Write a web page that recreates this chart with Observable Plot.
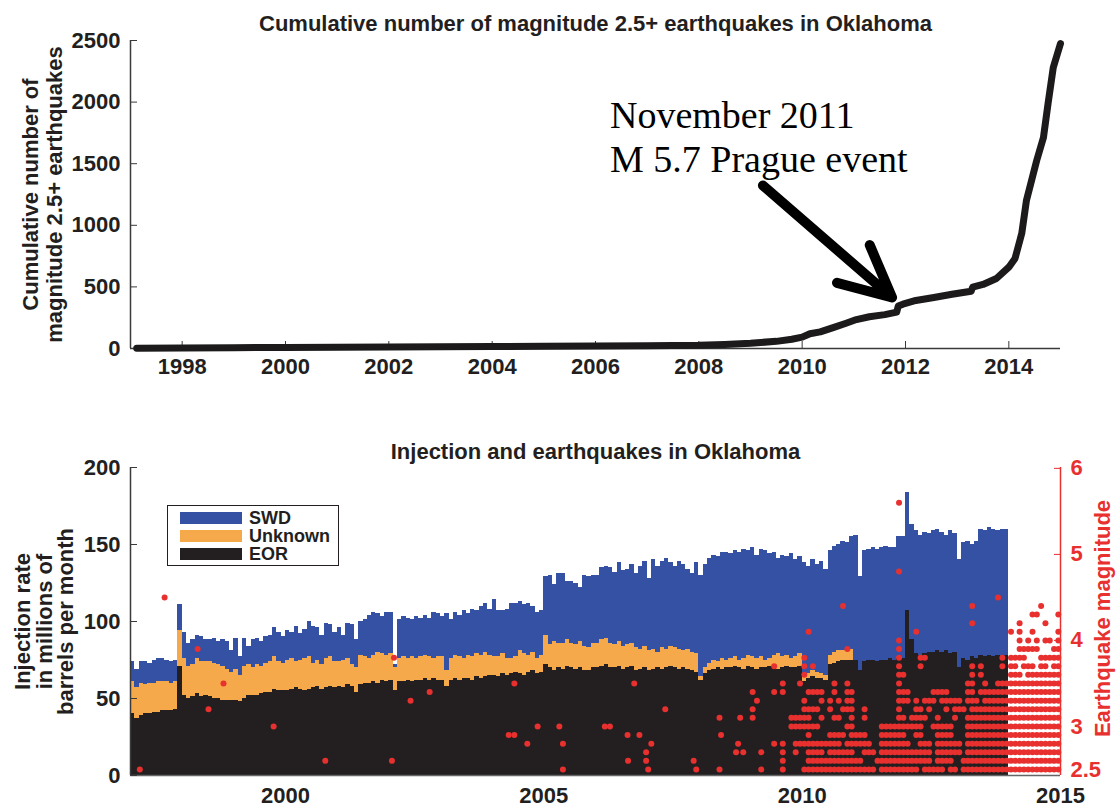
<!DOCTYPE html>
<html><head><meta charset="utf-8">
<script src="https://cdn.jsdelivr.net/npm/d3@7"></script>
<script src="https://cdn.jsdelivr.net/npm/@observablehq/plot@0.6"></script>
<style>
body{margin:0;background:#fff;}
#wrap{position:relative;width:1120px;height:807px;overflow:hidden;background:#fff;font-family:"Liberation Sans",Arial,sans-serif;}
#wrap svg{position:absolute;left:0;}
#legend{position:absolute;left:167px;top:505px;width:172px;height:61px;border:1.5px solid #231f20;background:#fff;box-sizing:border-box;}
#legend .sw{position:absolute;left:12px;width:62px;height:12px;}
#legend .lb{position:absolute;left:81px;font:bold 18px "Liberation Sans",Arial,sans-serif;color:#231f20;line-height:18px;}
</style></head>
<body><div id="wrap"></div>
<script>
// ---------- Top chart data ----------
const cumYears = [1997.12, 1998, 1999, 2000, 2001, 2002, 2003, 2004, 2005, 2006, 2007, 2008, 2008.5, 2009, 2009.5, 2009.8, 2010, 2010.15, 2010.35, 2010.6, 2010.85, 2011.05, 2011.3, 2011.6, 2011.83, 2011.86, 2011.95, 2012.2, 2012.55, 2012.9, 2013.27, 2013.3, 2013.5, 2013.76, 2014.0, 2014.12, 2014.25, 2014.34, 2014.54, 2014.67, 2014.76, 2014.86, 2015.0];
const cumCounts = [3, 5, 7, 9, 10, 12, 14, 16, 18, 20, 22, 26, 33, 43, 58, 75, 92, 120, 135, 170, 205, 235, 258, 275, 295, 345, 360, 390, 414, 440, 465, 498, 520, 568, 660, 731, 934, 1200, 1527, 1713, 1990, 2280, 2475];
const topXTicks = [1998, 2000, 2002, 2004, 2006, 2008, 2010, 2012, 2014];
const topYTicks = [0, 500, 1000, 1500, 2000, 2500];
const noteLines = ["November 2011", "M 5.7 Prague event"];
const noteX = [2006.28, 2006.28];
const noteY = [1786, 1429];
const arrowFrom = [2009.24, 1323];
const arrowTo = [2011.74, 414];

// ---------- Bottom chart data (monthly, Jan 1997 - Dec 2013), stacked levels ----------
const eorLevel = [
 40,37,39,40,40,41,41,42,42,42,43,71,
 52,50,51,53,51,52,51,50,50,49,49,49,
 49,48,50,52,52,52,53,54,54,56,55,55,
 55,56,57,56,55,56,57,58,56,57,58,57,
 58,57,59,58,54,59,60,60,61,60,62,61,
 62,55,61,61,62,61,62,62,63,62,63,62,
 62,58,62,63,62,63,63,62,64,63,64,65,
 65,64,66,65,66,67,66,65,67,68,66,67,
 72,70,68,70,69,71,70,69,70,68,68,70,
 70,71,72,70,70,71,69,70,71,68,69,70,
 68,69,70,69,70,71,70,69,70,69,68,67,
 62,66,68,69,70,69,70,70,71,70,69,71,
 70,69,70,70,71,70,69,70,71,70,70,71,
 61,63,64,63,63,62,72,73,74,75,75,75,
 75,68,74,75,75,74,75,75,76,75,76,76,
 107,88,79,78,79,80,80,81,80,81,79,80,
 70,76,75,77,76,78,77,78,77,78,77,78];
const unknownLevel = [
 61,57,60,59,60,60,61,61,61,60,61,94,
 76,71,72,76,74,74,74,73,72,71,69,67,
 69,65,71,72,70,72,71,73,74,77,74,73,
 75,76,74,75,76,77,73,75,72,76,77,74,
 74,75,76,72,70,78,77,76,78,80,79,78,
 79,70,76,77,76,77,76,77,78,77,76,77,
 77,68,76,78,77,76,78,77,79,78,80,78,
 77,77,79,76,76,77,81,79,78,80,76,78,
 91,85,87,86,86,88,86,85,87,84,83,86,
 86,88,89,86,85,87,84,85,86,83,82,84,
 81,82,80,83,82,84,83,82,81,82,80,79,
 64,70,73,75,74,76,75,76,77,75,76,78,
 77,76,77,75,76,78,79,77,78,76,77,79,
 64,66,68,67,66,65,78,80,81,81,82,82,
 75,68,74,75,75,74,75,75,76,75,76,76,
 107,88,79,78,79,80,80,81,80,81,79,80,
 70,76,75,77,76,78,77,78,77,78,77,78];
const swdLevel = [
 74,69,74,74,73,75,76,76,75,74,75,111,
 93,86,88,91,90,88,88,89,87,88,87,81,
 89,77,89,84,88,89,87,90,91,96,93,90,
 94,93,97,92,95,100,97,96,91,99,98,93,
 96,91,99,98,88,100,101,104,106,105,103,106,
 106,72,101,103,102,101,103,102,104,102,106,105,
 103,105,101,106,104,107,105,108,107,110,112,108,
 114,107,107,108,112,112,113,111,112,110,106,107,
 129,130,124,131,131,126,126,125,122,130,129,130,
 130,135,136,135,132,138,133,134,137,131,136,139,
 128,140,136,139,141,138,136,139,137,134,131,138,
 130,137,141,143,142,145,145,144,146,145,147,146,
 148,143,147,146,144,145,141,143,142,144,140,142,
 138,136,140,137,139,134,146,149,150,152,151,155,
 156,129,146,147,148,147,148,149,148,148,155,155,
 184,163,159,156,158,157,159,160,158,156,159,157,
 140,151,152,150,152,160,159,161,160,159,160,160];
const seriesNames = ["SWD", "Unknown", "EOR"];
const seriesColors = ["#3451a3", "#f6a94b", "#231f20"];
const botXTicks = [2000, 2005, 2010, 2015];
const botYTicks = [0, 50, 100, 150, 200];
const magTicks = [2.5, 3, 4, 5, 6];

// Earthquakes: isolated events (decimal year, magnitude)
const sparseQuakeYears = [1997.18,1997.66,1998.30,1998.51,1998.80,1999.77,2000.77,2002.06,2002.10,2002.42,2002.79,2004.32,2004.43,2004.43,2004.68,2004.88,2005.30,2005.37,2005.37,2006.18,2006.28,2006.62,2006.63,2006.75,2006.85,2006.98,2006.98,2007.02,2007.08,2007.35,2007.90,2007.95,2008.40,2008.43,2008.40,2008.72,2008.76,2008.80,2008.86,2011.875,2011.875];
const sparseQuakeMags  = [2.5,4.5,3.9,3.2,3.5,3.0,2.6,2.6,3.8,3.3,3.4,2.9,2.9,3.5,2.8,3.0,3.0,2.8,2.5,3.0,3.0,2.9,2.6,3.5,2.9,2.7,2.6,2.5,2.8,3.2,2.6,2.5,3.1,2.9,2.5,2.7,2.8,3.1,2.7,4.8,5.6];
// Earthquakes 2009-2014: one row per magnitude, one character per month (1 = event plotted)
const rowMags = [2.5,2.6,2.7,2.8,2.9,3.0,3.1,3.2,3.3,3.4,3.5,3.6,3.7,3.8,3.9,4.0,4.1,4.2,4.3,4.4,4.5];
const rowPatterns = [
 "001000010000 111111111111 111110111111 111011111011 011111111111 111111111111",
 "000000010000 011111111111 110001111111 111111011110 011111111111 111111111111",
 "001000010010 011110111111 001110111111 111111011111 101111111111 111111111111",
 "000001010011 111111111011 111100111111 100111011111 101111111111 111111111111",
 "000000000000 010000111101 111000111111 001100011110 001111111111 111111111111",
 "000000000111 111100000011 000000111111 111100111110 001111111111 111111111111",
 "100000000111 110010011001 001000000011 011110010001 001111111111 111111111111",
 "100000000000 111100100111 001000000010 001101000101 110111111111 111111111111",
 "010000000000 100010101011 000000000011 101011101111 101110111111 111111111111",
 "100001010000 011110010011 000000000011 100000111100 001101111111 111111111111",
 "000000010001 000000010010 000000000010 000000000000 001100100111 111111111111",
 "000000000000 100000000000 000000000011 000000000000 000101000000 111011111111",
 "000001000000 101000000000 000000000010 000100000000 000101000010 110111011011",
 "000000000000 100000000000 000000000010 000110000000 000000000010 111100011111",
 "000000000000 000000000010 000000000010 000000000000 000000000000 001111100011",
 "000000000000 000000000000 000000000010 000000000000 000000000000 001010101101",
 "000000000000 010000000000 000000000000 001000000000 000000000000 101001000001",
 "000000000000 000000000000 000000000000 000000000000 000100000000 001000001000",
 "000000000000 000000000000 000000000000 000000000000 000000000000 000001100001",
 "000000000000 000000000100 000000000000 000000000000 000100000000 000000010000",
 "000000000000 000000000000 000000000000 000000000000 000000000100 000000000000"];

// ---------- Build tables ----------
const cumData = cumYears.map((t, i) => ({t, n: cumCounts[i]}));
const notes = noteLines.map((text, i) => ({text, x: noteX[i], y: noteY[i]}));
const arrows = [{x1: arrowFrom[0], y1: arrowFrom[1], x2: arrowTo[0], y2: arrowTo[1]}];

const barData = [];
eorLevel.forEach((b, i) => {
  const t0 = 1997 + i / 12, t1 = 1997 + (i + 1) / 12;
  barData.push({t0, t1, lo: 0, hi: b, type: "EOR"});
  barData.push({t0, t1, lo: b, hi: unknownLevel[i], type: "Unknown"});
  barData.push({t0, t1, lo: unknownLevel[i], hi: swdLevel[i], type: "SWD"});
});
const quakes = sparseQuakeYears.map((t, i) => ({t, m: sparseQuakeMags[i]}));
rowMags.forEach((mag, r) => {
  const s = rowPatterns[r].replace(/ /g, "");
  for (let k = 0; k < s.length; k++) if (s[k] === "1") quakes.push({t: 2009 + (k + 0.5) / 12, m: mag});
});

const INK = "#231f20", AXIS = "#3a3a3a", RED = "#e8302f";
const baseStyle = {fontFamily: "Liberation Sans, Arial, sans-serif", fontSize: "22px", fontWeight: "bold", color: INK, background: "transparent"};
const wrap = document.getElementById("wrap");

// ---------- Top chart ----------
const topSvg = Plot.plot({
  width: 1120, height: 395, marginTop: 40, marginBottom: 47, marginLeft: 130, marginRight: 60,
  style: baseStyle,
  x: {domain: [1997, 2015]},
  y: {domain: [0, 2500]},
  marks: [
    Plot.ruleY([0], {stroke: AXIS, strokeWidth: 1.5}),
    Plot.ruleX([1997], {stroke: AXIS, strokeWidth: 1.5}),
    Plot.axisX({ticks: topXTicks, tickSize: 0, tickPadding: 10, tickFormat: d => String(d), label: null, fill: INK}),
    Plot.axisX({ticks: topXTicks, tickSize: -7, fill: "none", stroke: AXIS, label: null}),
    Plot.axisY({ticks: topYTicks, tickSize: 0, tickPadding: 10, tickFormat: d => String(d), label: null, fill: INK}),
    Plot.axisY({ticks: topYTicks, tickSize: -7, fill: "none", stroke: AXIS, label: null}),
    Plot.line(cumData, {x: "t", y: "n", stroke: "#1c1a1b", strokeWidth: 7, strokeLinejoin: "round"}),
    Plot.text(["Cumulative number of magnitude 2.5+ earthquakes in Oklahoma"], {frameAnchor: "top", dy: -17, lineAnchor: "middle", fill: INK}),
    Plot.text(["Cumulative number of\nmagnitude 2.5+ earthquakes"], {frameAnchor: "left", textAnchor: "middle", lineAnchor: "middle", rotate: -90, dx: -88, lineHeight: 1.09, fill: INK}),
    Plot.text(notes, {x: "x", y: "y", text: "text", textAnchor: "start", lineAnchor: "bottom", fontFamily: "Liberation Serif, serif", fontSize: 38, fontWeight: "normal", fill: "#000"}),
    Plot.arrow(arrows, {x1: "x1", y1: "y1", x2: "x2", y2: "y2", stroke: "#000", strokeWidth: 10, headLength: 9.5, headAngle: 52, strokeLinecap: "round", strokeLinejoin: "round"})
  ]
});
topSvg.style.top = "0px";
wrap.appendChild(topSvg);

// ---------- Bottom chart: injection bars ----------
const botA = Plot.plot({
  width: 1120, height: 387, marginTop: 47, marginBottom: 32, marginLeft: 130, marginRight: 60,
  style: baseStyle,
  x: {domain: [1997, 2015]},
  y: {domain: [0, 200]},
  color: {domain: seriesNames, range: seriesColors},
  marks: [
    Plot.rect(barData, {x1: "t0", x2: "t1", y1: "lo", y2: "hi", fill: "type", shapeRendering: "crispEdges"}),
    Plot.ruleY([0], {stroke: "#666", strokeWidth: 1.5}),
    Plot.ruleX([1997], {stroke: AXIS, strokeWidth: 1.5}),
    Plot.axisX({ticks: botXTicks, tickSize: 0, tickPadding: 12, tickFormat: d => String(d), label: null, fill: INK}),
    Plot.axisY({ticks: botYTicks, tickSize: 0, tickPadding: 10, tickFormat: d => String(d), label: null, fill: INK}),
    Plot.axisY({ticks: botYTicks, tickSize: -7, fill: "none", stroke: AXIS, label: null}),
    Plot.text(["Injection and earthquakes in Oklahoma"], {frameAnchor: "top", dy: -15.5, lineAnchor: "middle", fill: INK}),
    Plot.text(["Injection rate\nin millions of\nbarrels per month"], {frameAnchor: "left", textAnchor: "middle", lineAnchor: "middle", rotate: -90, dx: -85.5, lineHeight: 0.98, fill: INK})
  ]
});
botA.style.top = "420px";
wrap.appendChild(botA);

// ---------- Bottom chart: earthquake magnitudes (right axis) ----------
const botB = Plot.plot({
  width: 1120, height: 387, marginTop: 47, marginBottom: 32, marginLeft: 130, marginRight: 60,
  style: baseStyle,
  x: {domain: [1997, 2015], axis: null},
  y: {domain: [2.43, 6.01]},
  marks: [
    Plot.dot(quakes, {x: "t", y: "m", r: 3, fill: RED, stroke: "none"}),
    Plot.ruleX([2015], {stroke: RED, strokeWidth: 1.5}),
    Plot.axisY({anchor: "right", ticks: magTicks, tickSize: 0, tickPadding: 10, tickFormat: d => String(d), label: null, fill: RED}),
    Plot.axisY({anchor: "right", ticks: magTicks, tickSize: -7, fill: "none", stroke: RED, label: null}),
    Plot.text(["Earthquake magnitude"], {frameAnchor: "right", textAnchor: "middle", lineAnchor: "middle", rotate: -90, dx: 42, dy: -3, fill: RED})
  ]
});
botB.style.top = "420px";
wrap.appendChild(botB);

// ---------- Legend ----------
const legend = document.createElement("div");
legend.id = "legend";
const legendTops = [6, 24, 42];
seriesNames.forEach((name, i) => {
  const sw = document.createElement("div");
  sw.className = "sw"; sw.style.top = legendTops[i] + "px"; sw.style.background = seriesColors[i];
  const lb = document.createElement("div");
  lb.className = "lb"; lb.style.top = (legendTops[i] - 3) + "px"; lb.textContent = name;
  legend.appendChild(sw); legend.appendChild(lb);
});
wrap.appendChild(legend);
</script></body></html>
